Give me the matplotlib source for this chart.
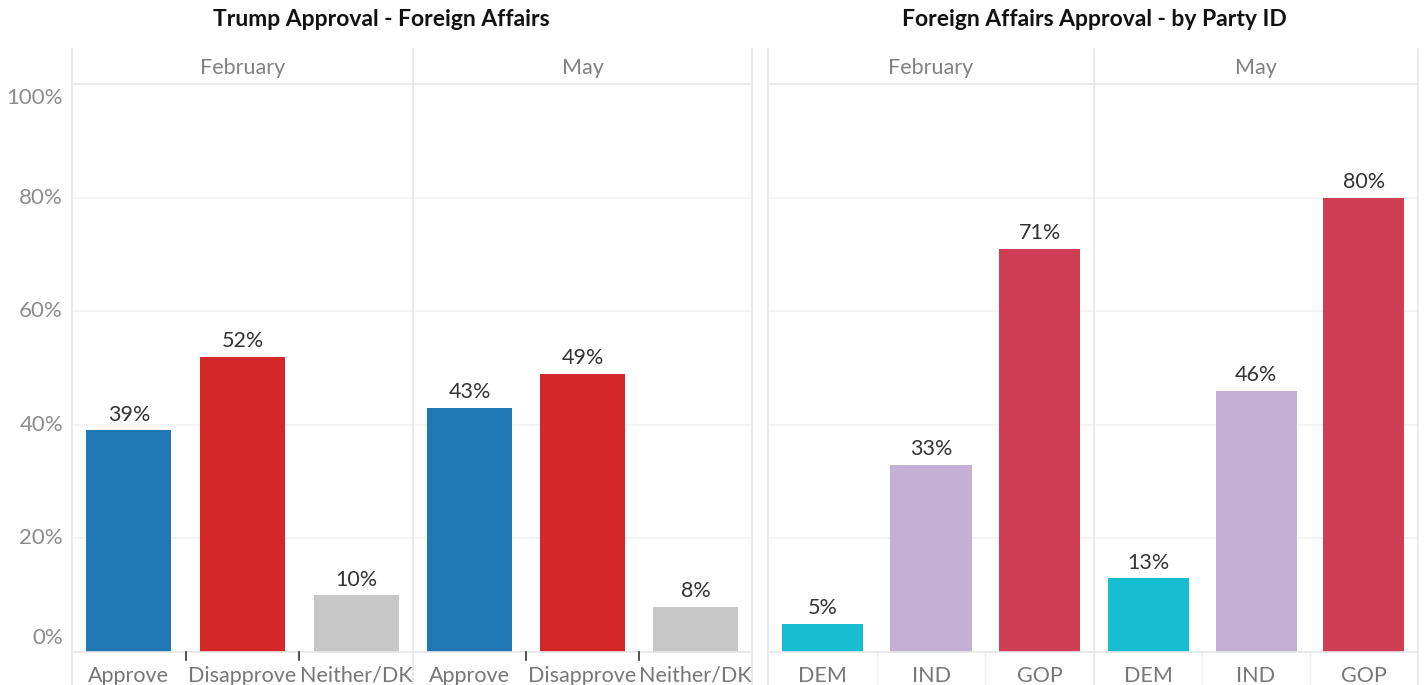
import matplotlib
matplotlib.use("Agg")
import matplotlib.pyplot as plt
from matplotlib.lines import Line2D

# data
months = ["February", "May"]
approvalCats = ["Approve", "Disapprove", "Neither/DK"]
approvalVals = {"February": [39, 52, 10], "May": [43, 49, 8]}
approvalColors = ["#1f77b4", "#d62728", "#c7c7c7"]
partyCats = ["DEM", "IND", "GOP"]
partyVals = {"February": [5, 33, 71], "May": [13, 46, 80]}
partyColors = ["#17becf", "#c5b0d5", "#d03e56"]
yTicks = [0, 20, 40, 60, 80, 100]

plt.rcParams["font.family"] = ["Lato", "DejaVu Sans"]

W, H = 1426, 685
fig = plt.figure(figsize=(W / 100, H / 100), dpi=100)

lineCol = "#e6e6e6"
gridCol = "#f2f2f2"
yTop, yZero = 84, 652


def fx(px):
    return px / W


def fy(py):
    return 1 - py / H


def vline(x, y0, y1, color=lineCol, lw=1.2, z=-1):
    fig.add_artist(Line2D([fx(x), fx(x)], [fy(y0), fy(y1)], color=color,
                          lw=lw, zorder=z))


def hline(x0, x1, y, color=lineCol, lw=1.2, z=-1):
    fig.add_artist(Line2D([fx(x0), fx(x1)], [fy(y), fy(y)], color=color,
                          lw=lw, zorder=z))


def drawPanel(edges, cats, vals, colors, title, titleCenter, showY, tickCol):
    # grid lines and borders
    for t in yTicks[1:-1]:
        yy = yZero - (yZero - yTop) * t / 100
        hline(edges[0], edges[-1], yy, color=gridCol)
    hline(edges[0], edges[-1], yTop)
    hline(edges[0], edges[-1], yZero, z=3)
    for e in edges:
        vline(e, 49, H)
    fig.text(fx(titleCenter), fy(19), title, ha="center", va="center",
             fontsize=16.5, fontweight="bold", color="#111111")

    for i, month in enumerate(months):
        x0, x1 = edges[i], edges[i + 1]
        ax = fig.add_axes([fx(x0), fy(yZero), fx(x1 - x0), (yZero - yTop) / H])
        ax.set_xlim(-0.5, len(cats) - 0.5)
        ax.set_ylim(0, 100)
        ax.axis("off")
        bars = ax.bar(range(len(cats)), vals[month], width=0.75, color=colors)
        for b, v in zip(bars, vals[month]):
            ax.annotate(f"{v}%", (b.get_x() + b.get_width() / 2, v),
                        xytext=(0, 4), textcoords="offset points",
                        ha="center", va="bottom", fontsize=15.5,
                        color="#333333")
        fig.text(fx((x0 + x1) / 2), fy(68), month, ha="center", va="center",
                 fontsize=15.5, color="#808080")
        catW = (x1 - x0) / len(cats)
        for k, c in enumerate(cats):
            fig.text(fx(x0 + catW * (k + 0.5)), fy(676), c, ha="center",
                     va="center", fontsize=15.5, color="#777777")
            if k > 0:
                bx = x0 + catW * k
                if tickCol == "dark":
                    vline(bx, yZero, yZero + 8, color="#333333", lw=1.2, z=4)
                else:
                    vline(bx, yZero, H, color="#eeeeee", lw=1.0)
        if showY and i == 0:
            for t in yTicks:
                yy = yZero - (yZero - yTop) * t / 100
                if t == 100:
                    yy += 14
                if t == 0:
                    yy -= 14
                fig.text(fx(63), fy(yy), f"{t}%", ha="right", va="center",
                         fontsize=16, color="#8c8c8c")


drawPanel([72, 413, 752], approvalCats, approvalVals, approvalColors,
          "Trump Approval - Foreign Affairs", 381, True, "dark")
drawPanel([768, 1094, 1418], partyCats, partyVals, partyColors,
          "Foreign Affairs Approval - by Party ID", 1094, False, "light")

fig.savefig("out.png", dpi=100)
